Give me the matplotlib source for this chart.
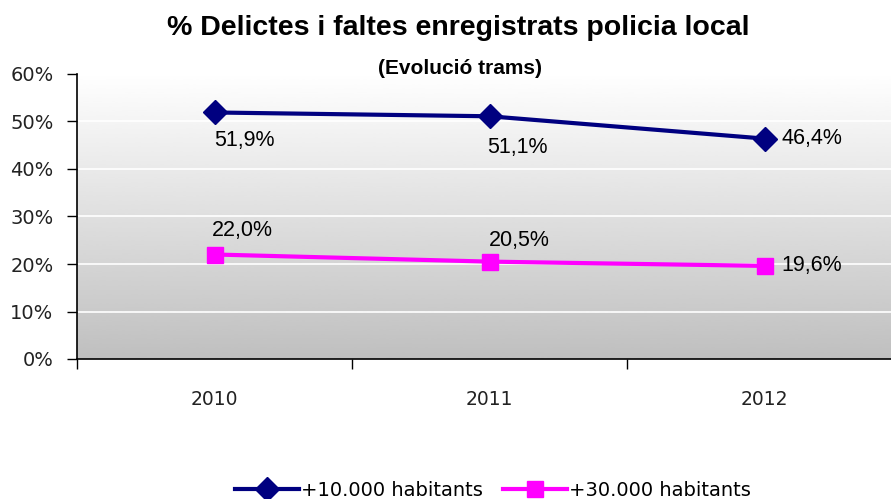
import numpy as np
import matplotlib
matplotlib.use("Agg")
import matplotlib.pyplot as plt

plt.rcParams["font.family"] = ["Liberation Sans", "DejaVu Sans"]

years = ["2010", "2011", "2012"]
small_towns = [51.9, 51.1, 46.4]
big_towns = [22.0, 20.5, 19.6]
series_names = ["+10.000 habitants", "+30.000 habitants"]
y_ticks = [0, 10, 20, 30, 40, 50, 60]

NAVY = "#000080"
MAGENTA = "#ff00ff"
TICK_FONT = ["DejaVu Sans"]

fig = plt.figure(figsize=(8.91, 4.99), dpi=100)
ax = fig.add_axes([77 / 891, 140 / 499, 825 / 891, 285 / 499])

# gray gradient background (white on top)
grad = np.linspace(1.0, 0.75, 256).reshape(-1, 1)
ax.imshow(grad, extent=[0, 1, 0, 1], transform=ax.transAxes, aspect="auto",
          cmap="gray", vmin=0, vmax=1, zorder=0, interpolation="bicubic")

x = np.arange(len(years))
ax.set_xlim(-0.5, 2.5)
ax.set_ylim(0, 60)

for yv in y_ticks[1:-1]:
    ax.axhline(yv, color="white", lw=1.2, zorder=1)

ax.plot(x, small_towns, color=NAVY, lw=3.0, marker="D", ms=12, zorder=3,
        label=series_names[0])
ax.plot(x, big_towns, color=MAGENTA, lw=3.0, marker="s", ms=11.5, zorder=3,
        label=series_names[1])

def fmt(v):
    return f"{v:.1f}%".replace(".", ",")

# data labels: (dx, dy, ha)
offsets_small = [(0.11, -6, "center"), (0.10, -6.5, "center"), (0.062, 0, "left")]
offsets_big = [(0.10, 5, "center"), (0.11, 4.5, "center"), (0.062, 0, "left")]
for xi, v, (dx, dy, ha) in zip(x, small_towns, offsets_small):
    ax.text(xi + dx, v + dy, fmt(v), fontsize=15.5, ha=ha, va="center", zorder=4)
for xi, v, (dx, dy, ha) in zip(x, big_towns, offsets_big):
    ax.text(xi + dx, v + dy, fmt(v), fontsize=15.5, ha=ha, va="center", zorder=4)

ax.set_yticks(y_ticks)
ax.set_yticklabels([f"{t}%" for t in y_ticks], fontsize=14, color="#222222",
                   family=TICK_FONT)
ax.tick_params(axis="y", length=7, width=1, pad=10)

ax.set_xticks([-0.5, 0.5, 1.5])
ax.set_xticklabels([])
ax.tick_params(axis="x", which="major", length=7, width=1)
ax.set_xticks(x, minor=True)
ax.set_xticklabels(years, minor=True, fontsize=13.5, color="#222222",
                   family=TICK_FONT)
ax.tick_params(axis="x", which="minor", length=0, pad=22)

for s in ["top", "right"]:
    ax.spines[s].set_visible(False)
for s in ["left", "bottom"]:
    ax.spines[s].set_color("black")
    ax.spines[s].set_linewidth(1.2)
    ax.spines[s].set_zorder(5)

fig.text(458 / 891, 1 - 28 / 499, "% Delictes i faltes enregistrats policia local",
         fontsize=20.5, fontweight="bold", ha="center", va="center")
fig.text(460 / 891, 1 - 68 / 499, "(Evolució trams)",
         fontsize=15, fontweight="bold", ha="center", va="center")

fig.legend(loc="center", bbox_to_anchor=(493 / 891, 1 - 490 / 499), ncol=2,
           frameon=False, prop={"family": TICK_FONT, "size": 14},
           handlelength=3.3, handletextpad=0.1, columnspacing=1.0)

fig.savefig("out.png", dpi=100)
